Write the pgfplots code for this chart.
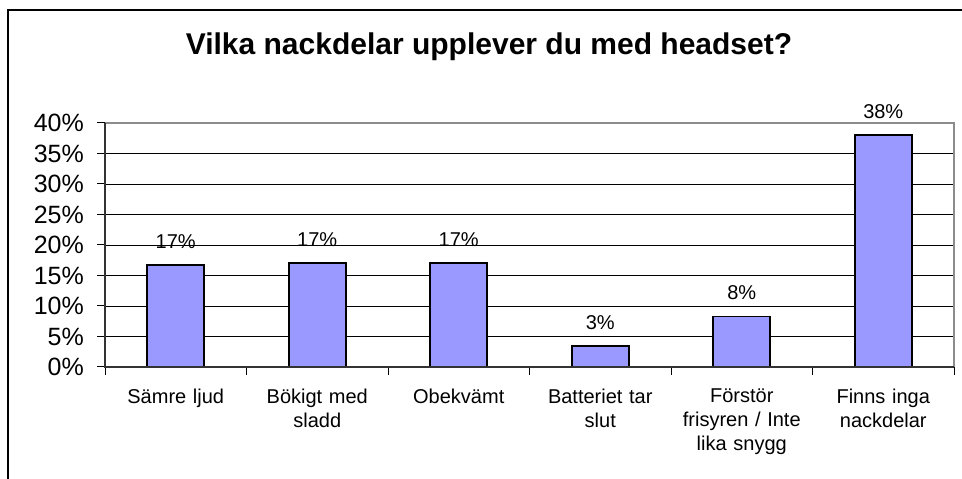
\documentclass[border=0pt]{standalone}
\usepackage{pgfplots}
\pgfplotsset{compat=1.18}
\usepackage{fontspec}
\setmainfont{Liberation Sans}
\definecolor{barfill}{HTML}{9999FF}
\begin{document}
\begin{tikzpicture}[x=1bp,y=1bp]
\useasboundingbox (0,0) rectangle (962,479);
\clip (0,0) rectangle (962,479);
\draw[black, line width=1.2bp] (8,-10) -- (8,469) -- (975,469);
\node[anchor=base, inner sep=0pt, font=\fontsize{30bp}{36bp}\selectfont\bfseries] at (489,424) {Vilka nackdelar upplever du med headset?};
\begin{axis}[
  at={(105bp,112bp)}, anchor=south west,
  scale only axis, width=849bp, height=244bp,
  xmin=-0.5, xmax=5.5, ymin=0, ymax=40,
  axis line style={draw=none},
  xtick pos=bottom, ytick pos=left,
  ytick={0,5,10,15,20,25,30,35,40},
  yticklabels={0\%,5\%,10\%,15\%,20\%,25\%,30\%,35\%,40\%},
  yticklabel style={font=\fontsize{25bp}{30bp}\selectfont, anchor=east, inner sep=0pt, xshift=-13bp},
  xtick={-0.5,0.5,1.5,2.5,3.5,4.5,5.5},
  xticklabels={},
  extra x ticks={0,1,2,3,4,5},
  extra x tick labels={Sämre ljud,{Bökigt med\\sladd},Obekvämt,{Batteriet tar\\slut},{Förstör\\frisyren / Inte\\lika snygg},{Finns inga\\nackdelar}},
  extra x tick style={major tick length=0pt,
    xticklabel style={font=\fontsize{20bp}{24bp}\selectfont, text width=150bp, align=center, anchor=north, inner sep=0pt, yshift=-21.5bp}},
  tick align=outside,
  major tick length=8bp,
  tick style={black, line width=1bp},
  ymajorgrids,
  major grid style={black, line width=0.9bp},
  /pgf/number format/assume math mode=true,
  after end axis/.code={
    \draw[gray!90, line width=1.3bp] (rel axis cs:0,1) -- (rel axis cs:1,1) -- (rel axis cs:1,0);
    \draw[black!80, line width=1.6bp] (rel axis cs:0,1) -- (rel axis cs:0,0) -- (rel axis cs:1,0);
  },
]
\addplot[ybar, bar width=57bp, bar shift=0pt, fill=barfill, draw=black, line width=1.6bp,
  nodes near coords={\pgfmathprintnumber[fixed,precision=0]{\pgfplotspointmeta}\%},
  nodes near coords style={anchor=base, inner sep=0pt, yshift=17bp, font=\fontsize{20bp}{24bp}\selectfont, black}]
coordinates {(0,16.7) (1,17.0) (2,17.0) (3,3.4) (4,8.3) (5,38.0)};
\end{axis}
\end{tikzpicture}
\end{document}
